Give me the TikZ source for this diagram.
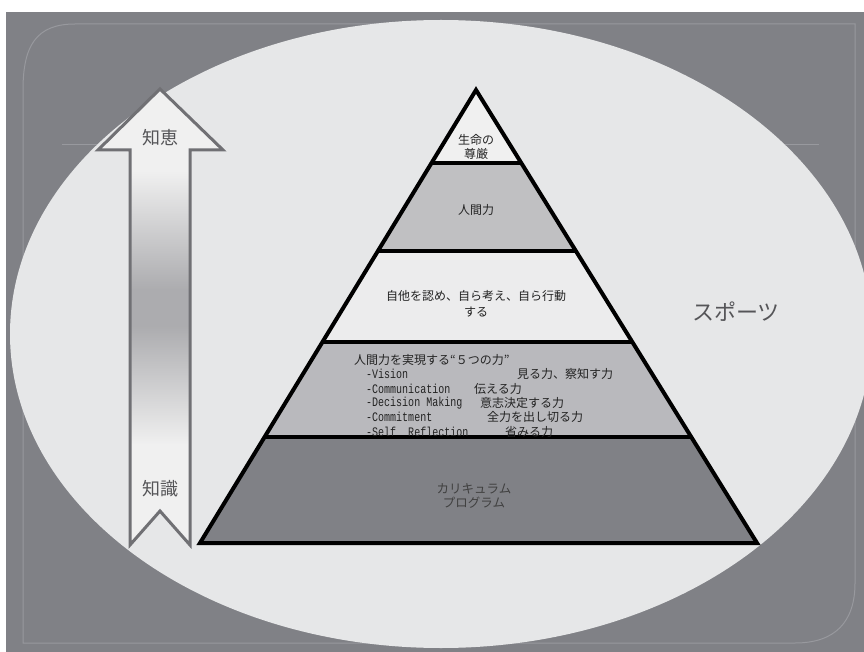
\documentclass[tikz,border=0pt]{standalone}
\usepackage{fontspec}
\newfontfamily\jp{Noto Sans CJK JP}
\newfontfamily\monohalf[FakeStretch=0.77]{Liberation Mono}
\definecolor{bgc}{RGB}{128,129,134}
\definecolor{ellc}{RGB}{230,231,232}
\definecolor{framec}{RGB}{152,153,158}
\definecolor{tierA}{RGB}{240,240,240}
\definecolor{tierB}{RGB}{192,192,194}
\definecolor{tierC}{RGB}{236,236,237}
\definecolor{tierD}{RGB}{185,185,189}
\definecolor{tierE}{RGB}{128,129,134}
\definecolor{arrowc}{RGB}{112,112,116}
\definecolor{shadedark}{RGB}{172,172,175}
\definecolor{txtgray}{RGB}{85,85,88}
\definecolor{txtdark}{RGB}{35,35,35}
\pgfdeclareverticalshading{arrowshade}{100bp}{color(0bp)=(tierA); color(36bp)=(tierA); color(49bp)=(shadedark); color(53bp)=(shadedark); color(66bp)=(tierA); color(100bp)=(tierA)}
\tikzset{
  tiertext/.style={font=\jp\fontsize{12}{14}\selectfont, text=txtdark, align=center, inner sep=0pt},
  latinpart/.style={font=\monohalf\fontsize{13}{14}\selectfont, text=txtdark, anchor=west, inner sep=0pt},
  jppart/.style={font=\jp\fontsize{12}{14}\selectfont, text=txtdark, anchor=west, inner sep=0pt},
  divider/.style={line width=4pt, black},
  bigtext/.style={font=\jp, text=txtgray, inner sep=0pt}
}
\begin{document}
\begin{tikzpicture}[x=1pt,y=-1pt]
\useasboundingbox (0,0) rectangle (864,652);
\fill[white] (0,0) rectangle (864,652);
\fill[bgc] (6,12) rectangle (864,652);
% faint line and frame
\draw[framec, line width=0.8pt] (62,144) -- (819,144);
\draw[framec, line width=1pt] (75,24) -- (855,24) -- (855,583)
  .. controls (855,622) and (835,643) .. (795,643) -- (23,643) -- (23,90)
  .. controls (23,46) and (36,24) .. (75,24) -- cycle;
% ellipse
\fill[ellc] (441,334) ellipse [x radius=431, y radius=314];
% arrow
\coordinate (tip) at (160,89);
\shadedraw[draw=arrowc, line width=3pt, shading=arrowshade]
  (tip) -- (223,150) -- (190,150) -- (190,545) -- (160,511) -- (130,545)
  -- (130,150) -- (98,150) -- cycle;
\node[bigtext, font=\jp\fontsize{18}{20}\selectfont] (wisdom) at (160,138) {知恵};
\node[bigtext, font=\jp\fontsize{18}{20}\selectfont] (knowledge) at (160,489) {知識};
% pyramid coordinates
\coordinate (apex) at (476,90);
\coordinate (L1) at (431.5,163); \coordinate (R1) at (521.3,163);
\coordinate (L2) at (377.9,251); \coordinate (R2) at (575.9,251);
\coordinate (L3) at (322.5,342); \coordinate (R3) at (632.3,342);
\coordinate (L4) at (264.6,437); \coordinate (R4) at (691.3,437);
\coordinate (L5) at (200,543);   \coordinate (R5) at (757,543);
\fill[tierA] (apex) -- (R1) -- (L1) -- cycle;
\fill[tierB] (L1) -- (R1) -- (R2) -- (L2) -- cycle;
\fill[tierC] (L2) -- (R2) -- (R3) -- (L3) -- cycle;
\fill[tierD] (L3) -- (R3) -- (R4) -- (L4) -- cycle;
\fill[tierE] (L4) -- (R4) -- (R5) -- (L5) -- cycle;
\draw[divider] (L1) -- (R1);
\draw[divider] (L2) -- (R2);
\draw[divider] (L3) -- (R3);
\draw[divider] (L4) -- (R4);
\draw[divider] (apex) -- (R5) -- (L5) -- cycle;
% tier texts
\node[tiertext] (t1) at (476,147) {生命の\\尊厳};
\node[tiertext] (t2) at (476,210) {人間力};
\node[tiertext, font=\jp\fontsize{12}{16}\selectfont] (t3) at (476,304) {自他を認め、自ら考え、自ら行動\\する};
\node[jppart] (h0) at (354,360) {人間力を実現する“５つの力”};
\node[latinpart] (a1) at (366,374) {-Vision};
\node[jppart] (b1) at (517,374) {見る力、察知す力};
\node[latinpart] (a2) at (366,389) {-Communication};
\node[jppart] (b2) at (474,389) {伝える力};
\node[latinpart] (a3) at (366,403) {-Decision Making};
\node[jppart] (b3) at (480,403) {意志決定する力};
\node[latinpart] (a4) at (366,417) {-Commitment};
\node[jppart] (b4) at (487,417) {全力を出し切る力};
\node[latinpart] (a5) at (366,432) {-Self\ \ Reflection};
\node[jppart] (b5) at (505,432) {省みる力};
\node[tiertext, text=black!75, font=\jp\fontsize{12.5}{14}\selectfont] (t5) at (474,496) {カリキュラム\\プログラム};
% sports
\node[bigtext, font=\jp\fontsize{22}{24}\selectfont] (sports) at (736,312) {スポーツ};
\end{tikzpicture}
\end{document}
